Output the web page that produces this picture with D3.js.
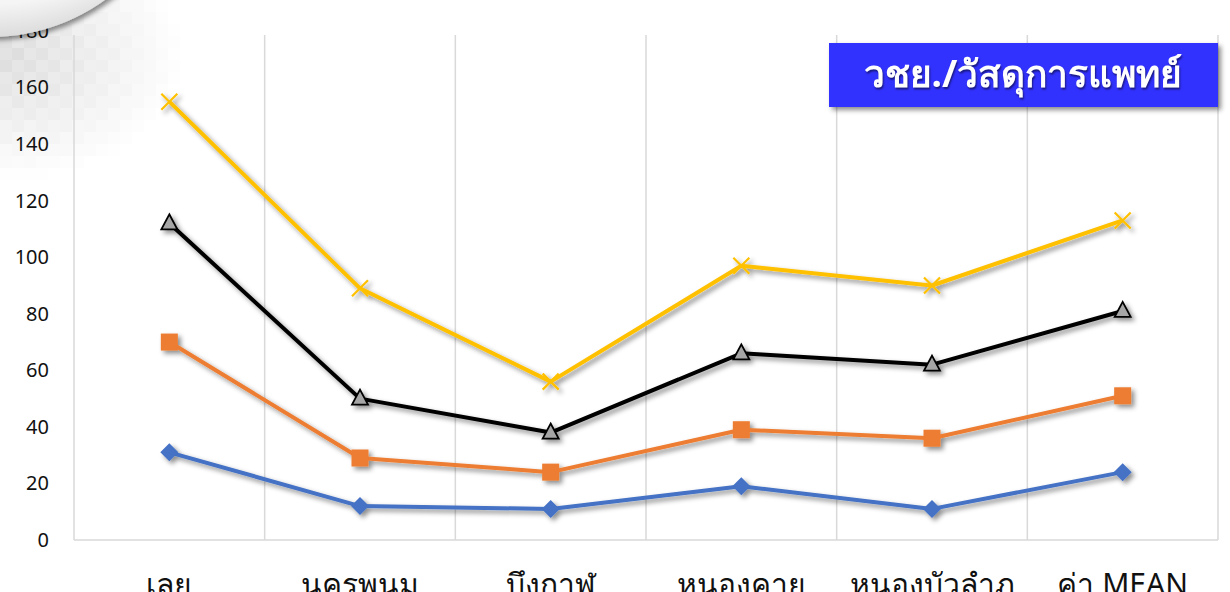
<!DOCTYPE html>
<html>
<head>
<meta charset="utf-8">
<script src="https://cdn.jsdelivr.net/npm/d3@7"></script>
<style>
  body { margin: 0; background: #fff; overflow: hidden; }
  .tick text { font-family: "Noto Sans", Roboto, sans-serif; }
</style>
</head>
<body>
<div class="chart"></div>
<script>
// Chart data
var categories = ["เลย", "นครพนม", "บึงกาฬ", "หนองคาย", "หนองบัวลำภู", "ค่า MEAN"];
var seriesBlue = [31, 12, 11, 19, 11, 24];
var seriesOrange = [70, 29, 24, 39, 36, 51];
var seriesBlack = [112, 50, 38, 66, 62, 81];
var seriesYellow = [155, 89, 56, 97, 90, 113];
var yTicks = [0, 20, 40, 60, 80, 100, 120, 140, 160, 180];
var titleText = "วชย./วัสดุการแพทย์";

var svgWidth = 1230;
var svgHeight = 592;

var margin = { top: 31, right: 12, bottom: 52, left: 74 };
var width = svgWidth - margin.left - margin.right;
var height = svgHeight - margin.top - margin.bottom;

var svg = d3.select(".chart")
  .append("svg")
  .attr("width", svgWidth)
  .attr("height", svgHeight);

var defs = svg.append("defs");
var shadow = defs.append("filter").attr("id", "shadow")
  .attr("x", "-50%").attr("y", "-50%").attr("width", "200%").attr("height", "200%");
shadow.append("feDropShadow")
  .attr("dx", 3).attr("dy", 3).attr("stdDeviation", 2.5)
  .attr("flood-color", "#000").attr("flood-opacity", 0.45);

// decorative corner: pixel fade behind everything
var deco = svg.append("g");
var cell = 12;
for (var i = 0; i < 18; i++) {
  for (var j = 0; j < 16; j++) {
    var d = Math.sqrt(Math.pow(i * cell * 0.9, 2) + Math.pow((j * cell - 50) * 1.3, 2));
    var a = Math.max(0, 0.3 * (1 - d / 160));
    if (a > 0) {
      deco.append("rect")
        .attr("x", i * cell).attr("y", j * cell)
        .attr("width", cell).attr("height", cell)
        .attr("fill", "#8a8a8a").attr("opacity", a * (0.8 + 0.2 * ((i + j) % 2)));
    }
  }
}

var chartGroup = svg.append("g")
  .attr("transform", `translate(${margin.left}, ${margin.top})`);

var xScale = d3.scaleBand()
  .domain(categories)
  .range([0, width]);

var yScale = d3.scaleLinear()
  .domain([0, 180])
  .range([height, 0]);

// vertical category gridlines
chartGroup.selectAll(".vgrid")
  .data(categories.concat(["_end"]))
  .enter()
  .append("line")
  .attr("x1", (d, i) => i * xScale.bandwidth())
  .attr("x2", (d, i) => i * xScale.bandwidth())
  .attr("y1", 4)
  .attr("y2", height)
  .attr("stroke", "#d9d9d9")
  .attr("stroke-width", 1.5);

// bottom axis line
chartGroup.append("line")
  .attr("x1", 0).attr("x2", width)
  .attr("y1", height).attr("y2", height)
  .attr("stroke", "#d9d9d9").attr("stroke-width", 1.5);

// y axis labels
var leftAxis = d3.axisLeft(yScale).tickValues(yTicks).tickSize(0).tickPadding(25);
var yAxisG = chartGroup.append("g").call(leftAxis);
yAxisG.select(".domain").remove();
yAxisG.selectAll("text")
  .attr("font-size", 20)
  .attr("fill", "#111");

// x axis labels
var bottomAxis = d3.axisBottom(xScale).tickSize(0).tickPadding(28);
var xAxisG = chartGroup.append("g")
  .attr("transform", `translate(0, ${height})`)
  .call(bottomAxis);
xAxisG.select(".domain").remove();
xAxisG.selectAll("text")
  .attr("font-size", 30)
  .attr("font-family", "'Noto Sans', 'DejaVu Sans Condensed', sans-serif")
  .attr("fill", "#111")
  .attr("dy", "0.9em");

var line = d3.line()
  .x((d, i) => xScale(categories[i]) + xScale.bandwidth() / 2)
  .y(d => yScale(d));

var series = [
  { values: seriesBlue, color: "#4472c4", marker: "diamond" },
  { values: seriesOrange, color: "#ed7d31", marker: "square" },
  { values: seriesBlack, color: "#000000", marker: "triangle" },
  { values: seriesYellow, color: "#ffc000", marker: "x" }
];

series.forEach(function (s) {
  var g = chartGroup.append("g").attr("filter", "url(#shadow)");
  g.append("path")
    .datum(s.values)
    .attr("d", line)
    .attr("fill", "none")
    .attr("stroke", s.color)
    .attr("stroke-width", 4)
    .attr("stroke-linejoin", "round");

  var pts = g.selectAll(".pt")
    .data(s.values)
    .enter()
    .append("g")
    .attr("transform", (d, i) => `translate(${xScale(categories[i]) + xScale.bandwidth() / 2}, ${yScale(d)})`);

  if (s.marker === "diamond") {
    pts.append("path")
      .attr("d", "M0,-9 L9,0 L0,9 L-9,0 Z")
      .attr("fill", s.color);
  } else if (s.marker === "square") {
    pts.append("rect")
      .attr("x", -8.5).attr("y", -8.5).attr("width", 17).attr("height", 17)
      .attr("fill", s.color);
  } else if (s.marker === "triangle") {
    pts.append("path")
      .attr("d", "M0,-9 L8,6 L-8,6 Z")
      .attr("fill", "#a6a6a6")
      .attr("stroke", "#000")
      .attr("stroke-width", 1.8);
  } else {
    pts.append("path")
      .attr("d", "M-8,-8 L8,8 M-8,8 L8,-8")
      .attr("stroke", s.color)
      .attr("stroke-width", 2.2);
  }
});

// decorative disc over the top-left corner
var discGrad = defs.append("radialGradient").attr("id", "disc")
  .attr("cx", "50%").attr("cy", "30%").attr("r", "70%");
discGrad.append("stop").attr("offset", "0%").attr("stop-color", "#ffffff");
discGrad.append("stop").attr("offset", "88%").attr("stop-color", "#f5f5f5");
discGrad.append("stop").attr("offset", "100%").attr("stop-color", "#dcdcdc");
svg.append("circle")
  .attr("cx", -10).attr("cy", -160).attr("r", 197)
  .attr("fill", "url(#disc)")
  .attr("filter", "url(#shadow)");

// title box
var titleG = svg.append("g").attr("transform", "translate(829, 43)");
titleG.append("rect")
  .attr("width", 389).attr("height", 64)
  .attr("fill", "#3232ff")
  .attr("filter", "url(#shadow)");
titleG.append("text")
  .attr("x", 194).attr("y", 44)
  .attr("text-anchor", "middle")
  .attr("font-size", 37)
  .attr("font-weight", "bold")
  .attr("font-family", "'Noto Sans', sans-serif")
  .attr("fill", "#fff")
  .style("text-shadow", "1px 2px 2px rgba(0,0,0,0.5)")
  .text(titleText);
</script>
</body>
</html>
